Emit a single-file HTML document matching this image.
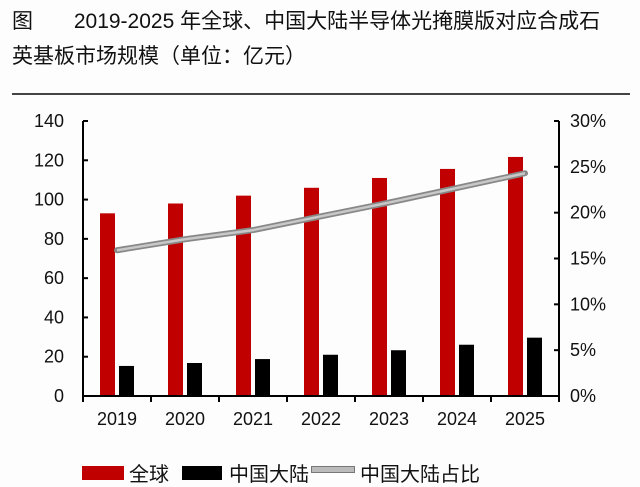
<!DOCTYPE html>
<html><head><meta charset="utf-8"><style>
body{margin:0;background:#fdfdfd;width:640px;height:473px;overflow:hidden;font-family:"Liberation Sans","Noto Sans CJK SC",sans-serif;}
.t{position:absolute;left:12px;font-size:21px;color:#111;white-space:nowrap;}
</style></head><body>
<div class="t" style="top:5px">图&nbsp;&nbsp;&nbsp;&nbsp;&nbsp;&nbsp;&nbsp;2019-2025 年全球、中国大陆半导体光掩膜版对应合成石</div>
<div class="t" style="top:40px">英基板市场规模（单位：亿元）</div>
<div style="position:absolute;left:12px;top:93px;width:618px;height:2px;background:#444"></div>
<svg id="c" width="640" height="473" style="position:absolute;left:0;top:0"></svg>
<script>
const categories=["2019","2020","2021","2022","2023","2024","2025"];
const globalValues=[93,98,102,106,111,115.6,121.7];
const chinaValues=[15.3,16.8,18.8,21,23.3,26.1,29.7];
const shareValues=[15.9,17.1,18.1,19.6,21.1,22.7,24.3];
const leftTicks=[0,20,40,60,80,100,120,140];
const rightTicks=[0,5,10,15,20,25,30];
const svg=document.getElementById('c');const NS='http://www.w3.org/2000/svg';
const X0=83,X1=559,Y0=396,Y1=121;
const bw=(X1-X0)/categories.length;
const yL=v=>Y0-(v/140)*(Y0-Y1);
const yR=v=>Y0-(v/30)*(Y0-Y1);
const xc=i=>X0+bw*(i+0.5);
function mk(t,a,parent){const e=document.createElementNS(NS,t);for(const k in a)e.setAttribute(k,a[k]);(parent||svg).appendChild(e);return e;}
categories.forEach((c,i)=>{
 const r=mk('rect',{x:xc(i)-17,y:yL(globalValues[i]),width:15,height:Y0-yL(globalValues[i]),fill:'#c00000'});
 
 
 const b=mk('rect',{x:xc(i)+2,y:yL(chinaValues[i]),width:15,height:Y0-yL(chinaValues[i]),fill:'#000'});
 
 
 const t=mk('text',{x:xc(i),y:425,'text-anchor':'middle','font-size':18,fill:'#111'});t.textContent=c;
 
 
});
const pts=shareValues.map((v,i)=>xc(i)+','+yR(v)).join(' ');
const ln=mk('polyline',{points:pts,fill:'none',stroke:'#888',"stroke-width":6,"stroke-linecap":'round'});


const ln2=mk('polyline',{points:pts,fill:'none',stroke:'#c8c8c8',"stroke-width":2.5});


mk('line',{x1:X0,y1:Y1,x2:X0,y2:Y0,stroke:'#000','stroke-width':2});
mk('line',{x1:X1,y1:Y1,x2:X1,y2:Y0,stroke:'#000','stroke-width':2});
mk('line',{x1:X0-1,y1:Y0,x2:X1+1,y2:Y0,stroke:'#000','stroke-width':2});
categories.concat(['']).forEach((c,i)=>mk('line',{x1:X0+bw*i,y1:Y0,x2:X0+bw*i,y2:Y0+6,stroke:'#000','stroke-width':2}));
leftTicks.forEach(v=>{mk('line',{x1:X0,y1:yL(v),x2:X0+5,y2:yL(v),stroke:'#000','stroke-width':2});
 const t=mk('text',{x:64,y:yL(v)+6,'text-anchor':'end','font-size':18,fill:'#111'});t.textContent=v;
 
 });
rightTicks.forEach(v=>{mk('line',{x1:X1-5,y1:yR(v),x2:X1,y2:yR(v),stroke:'#000','stroke-width':2});
 const t=mk('text',{x:570,y:yR(v)+6,'font-size':18,fill:'#111'});t.textContent=v+'%';
 
 });
</script>
<div style="position:absolute;left:0;top:461px;width:640px;height:20px;font-size:20px;color:#111">
<div style="position:absolute;left:82px;top:5px;width:42px;height:14px;background:#c00000"></div>
<span style="position:absolute;left:129px;top:-3px">全球</span>
<div style="position:absolute;left:182px;top:5px;width:40px;height:14px;background:#000"></div>
<span style="position:absolute;left:229px;top:-3px">中国大陆</span>
<div style="position:absolute;left:311px;top:5px;width:42px;height:5px;background:#bbb;border:1px solid #777"></div>
<span style="position:absolute;left:360px;top:-3px">中国大陆占比</span>
</div>
</body></html>
